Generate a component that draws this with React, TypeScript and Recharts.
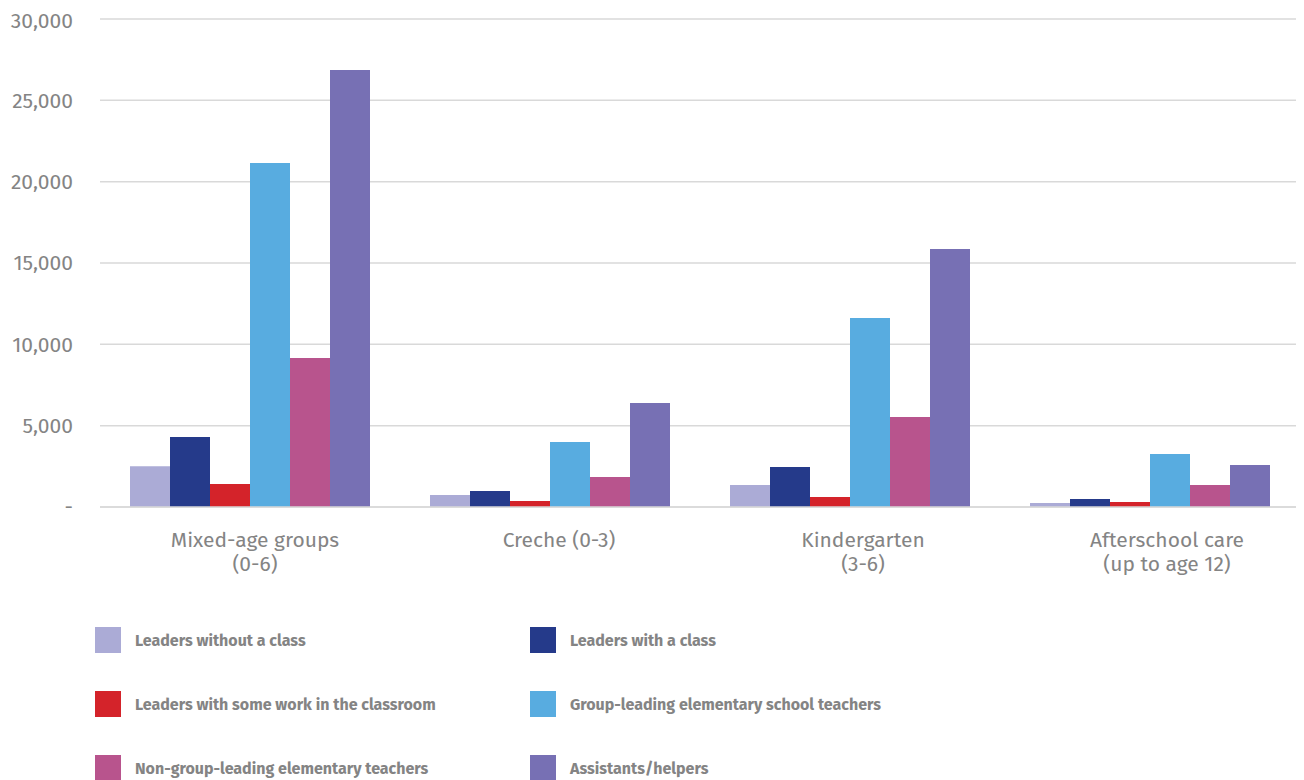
import { BarChart, Bar, XAxis, YAxis, CartesianGrid } from "recharts";

const categories = ["Mixed-age groups|(0-6)", "Creche (0-3)", "Kindergarten|(3-6)", "Afterschool care|(up to age 12)"];

const leadersWithoutClass = [2500, 740, 1350, 250];
const leadersWithClass = [4300, 980, 2460, 490];
const leadersSomeWork = [1410, 370, 610, 310];
const groupLeadingTeachers = [21150, 4000, 11620, 3260];
const nonGroupLeadingTeachers = [9160, 1840, 5530, 1350];
const assistants = [26860, 6390, 15860, 2580];

const yTicks = [0, 5000, 10000, 15000, 20000, 25000, 30000];

const series = [
  { key: "lwoc", name: "Leaders without a class", color: "#ABABD6", values: leadersWithoutClass },
  { key: "lwc", name: "Leaders with a class", color: "#253A8A", values: leadersWithClass },
  { key: "lsw", name: "Leaders with some work in the classroom", color: "#D4232A", values: leadersSomeWork },
  { key: "glt", name: "Group-leading elementary school teachers", color: "#58ACE0", values: groupLeadingTeachers },
  { key: "nglt", name: "Non-group-leading elementary teachers", color: "#B8548D", values: nonGroupLeadingTeachers },
  { key: "ast", name: "Assistants/helpers", color: "#7770B4", values: assistants },
];

const data = categories.map((c, i) => {
  const row: Record<string, string | number> = { name: c };
  series.forEach((s) => (row[s.key] = s.values[i]));
  return row;
});

const FONT = "'Fira Sans', 'Open Sans', sans-serif";
const GREY = "#848484";

function CategoryTick({ x, y, payload, index }: any) {
  const lines = String(payload.value).split("|");
  // labels in the original sit a little right of the bar groups
  const cx = x + 5 + (index ?? payload.index ?? 0) * 4;
  return (
    <text x={cx} y={y + 26} textAnchor="middle" fill={GREY} fontSize={21} fontFamily={FONT}>
      {lines.map((l, i) => (
        <tspan key={i} x={cx} dy={i === 0 ? 6 : 24}>
          {l}
        </tspan>
      ))}
    </text>
  );
}

export default function App() {
  return (
    <div style={{ position: "relative", width: 1296, height: 772, fontFamily: FONT }}>
      <BarChart
        width={1296}
        height={600}
        data={data}
        margin={{ top: 11, right: 4, left: 0, bottom: 21 }}
        barCategoryGap="10%"
        barGap={0}
      >
        <CartesianGrid vertical={false} stroke="#d9d9d9" strokeWidth={1.5} />
        <XAxis
          dataKey="name"
          axisLine={{ stroke: "#d9d9d9", strokeWidth: 1.5 }}
          tickLine={false}
          height={80}
          interval={0}
          tick={<CategoryTick />}
        />
        <YAxis
          width={92}
          domain={[0, 30000]}
          ticks={yTicks}
          axisLine={false}
          tickLine={false}
          tickMargin={21}
          tick={{ fill: GREY, fontSize: 21, fontFamily: FONT }}
          tickFormatter={(v: number) => (v === 0 ? "-" : v.toLocaleString("en-US"))}
        />
        {series.map((s) => (
          <Bar key={s.key} dataKey={s.key} name={s.name} fill={s.color} isAnimationActive={false} />
        ))}
      </BarChart>
      {series.map((s, i) => {
        const col = i % 2;
        const row = Math.floor(i / 2);
        return (
          <div
            key={s.key}
            style={{
              position: "absolute",
              left: col === 0 ? 87 : 522,
              top: 619 + row * 64,
              display: "flex",
              alignItems: "center",
              height: 26,
            }}
          >
            <div style={{ width: 26, height: 26, background: s.color }} />
            <span
              style={{
                marginLeft: 14,
                color: GREY,
                fontWeight: 700,
                fontSize: 16,
                fontFamily: FONT,
              }}
            >
              {s.name}
            </span>
          </div>
        );
      })}
    </div>
  );
}
